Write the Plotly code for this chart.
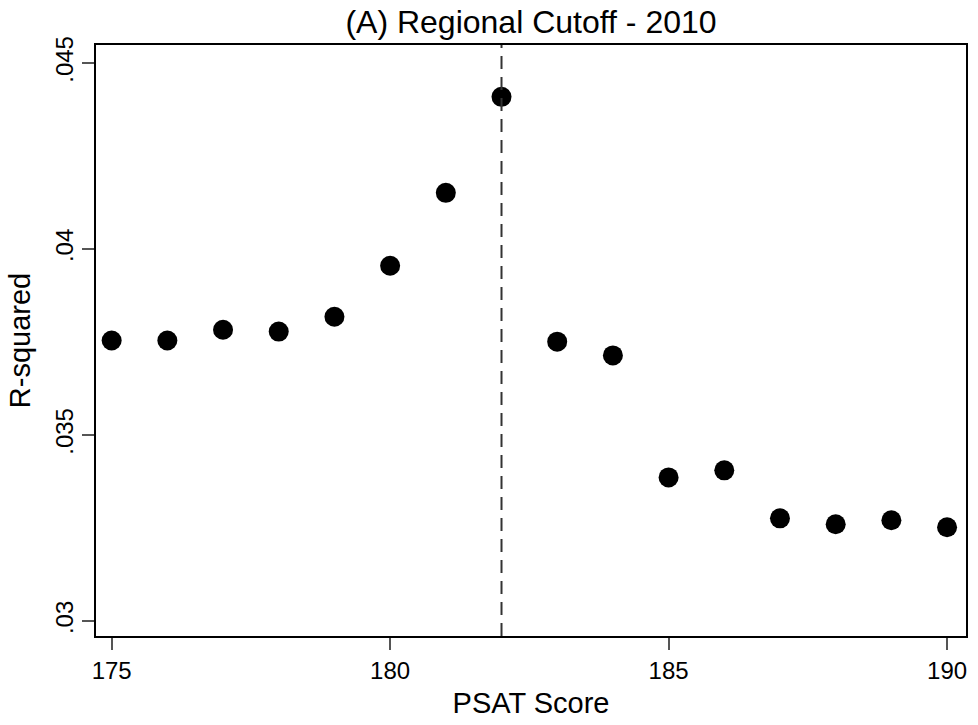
import plotly.graph_objects as go

psat_scores = [175, 176, 177, 178, 179, 180, 181, 182, 183, 184, 185, 186, 187, 188, 189, 190]
r_squared = [0.03754, 0.03754, 0.03783, 0.03778, 0.03818, 0.03955, 0.04151, 0.04409,
             0.03751, 0.03714, 0.03386, 0.03405, 0.03276, 0.03260, 0.03271, 0.03252]
cutoff = 182
y_tick_vals = [0.03, 0.035, 0.04, 0.045]
y_tick_text = [".03", ".035", ".04", ".045"]
x_tick_vals = [175, 180, 185, 190]

font = "Liberation Sans, Arial, sans-serif"

fig = go.Figure()
fig.add_trace(go.Scatter(
    x=psat_scores, y=r_squared, mode="markers",
    marker=dict(color="black", size=20, line=dict(width=0)),
    showlegend=False,
))
fig.add_shape(type="line", x0=cutoff, x1=cutoff, y0=0, y1=1, xref="x", yref="paper",
              line=dict(color="#333333", width=2, dash="13px,8px"))

fig.update_layout(
    width=978, height=725,
    margin=dict(l=96, r=10, t=45, b=89),
    paper_bgcolor="white", plot_bgcolor="white",
    font=dict(family=font, color="black"),
    title=dict(text="(A) Regional Cutoff - 2010", x=0.5, xanchor="center",
               xref="paper", y=0.970, yref="container", yanchor="middle",
               font=dict(size=32, family=font, color="black")),
)
fig.update_xaxes(
    range=[174.719, 190.34], tickvals=x_tick_vals, ticks="outside", ticklen=12,
    tickcolor="#555555", tickwidth=1.5, showgrid=False, zeroline=False,
    showline=True, linecolor="black", linewidth=1.5, mirror=True,
    tickfont=dict(size=24), title=dict(text="PSAT Score", font=dict(size=29), standoff=10),
)
fig.update_yaxes(
    range=[0.029597, 0.045484], tickvals=y_tick_vals, ticktext=y_tick_text,
    ticks="outside", ticklen=12, tickcolor="#555555", tickwidth=1.5,
    tickangle=-90, showgrid=False, zeroline=False,
    showline=True, linecolor="black", linewidth=1.5, mirror=True,
    tickfont=dict(size=24), title=dict(text="R-squared", font=dict(size=29), standoff=12),
)

fig.write_html("out.html")
